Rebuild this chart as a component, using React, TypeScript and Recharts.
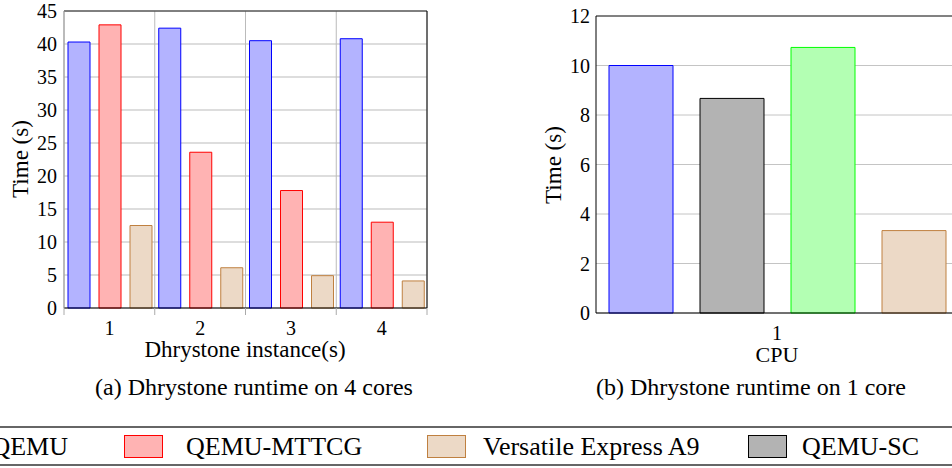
import React from 'react';
import { BarChart, Bar, XAxis, YAxis, CartesianGrid, ReferenceLine } from 'recharts';

// left panel: 4 cores
const instances = ['1', '2', '3', '4'];
const qemu4 = [40.3, 42.4, 40.5, 40.8];
const mttcg4 = [42.9, 23.6, 17.8, 13.0];
const vexpress4 = [12.5, 6.1, 4.9, 4.1];
const ticks4 = [0, 5, 10, 15, 20, 25, 30, 35, 40, 45];

// right panel: 1 core
const cpus = ['1'];
const qemu1 = [10.0];
const qemuSc1 = [8.67];
const green1 = [10.73];
const vexpress1 = [3.33];
const ticks1 = [0, 2, 4, 6, 8, 10, 12];

const SERIF = 'Liberation Serif, DejaVu Serif, serif';

const data4 = instances.map((name, i) => ({
  name,
  qemu: qemu4[i],
  mttcg: mttcg4[i],
  vexpress: vexpress4[i],
}));

const data1 = cpus.map((name, i) => ({
  name,
  qemu: qemu1[i],
  sc: qemuSc1[i],
  green: green1[i],
  vexpress: vexpress1[i],
}));

const colors = {
  qemu: { fill: '#b3b3ff', stroke: '#0000ff' },
  mttcg: { fill: '#ffb3b3', stroke: '#ff0000' },
  vexpress: { fill: '#ecd9c6', stroke: '#bf8040' },
  sc: { fill: '#b3b3b3', stroke: '#000000' },
  green: { fill: '#b3ffb3', stroke: '#00ff00' },
};

// x tick with the band boundary marks below the axis
const BandTick = ({ x, y, payload, index, visibleTicksCount, width, boundaries }: any) => {
  const half = (width || 363) / (visibleTicksCount || 1) / 2;
  return (
    <g>
      {boundaries && (
        <line x1={x - half} x2={x - half} y1={y} y2={y + 7} stroke="#aaa" />
      )}
      {boundaries && index === visibleTicksCount - 1 && (
        <line x1={x + half} x2={x + half} y1={y} y2={y + 7} stroke="#aaa" />
      )}
      <text x={x} y={y + 27} textAnchor="middle" style={{ fontFamily: SERIF }} fontSize={20} fill="#000">
        {payload.value}
      </text>
    </g>
  );
};

const bandLines = ({ offset }: any) => {
  const n = instances.length;
  return Array.from({ length: n + 1 }, (_, i) => offset.left + (i * offset.width) / n);
};

const yTick = { style: { fontFamily: SERIF }, fontSize: 20, fill: '#000' };

export default function App() {
  return (
    <div
      style={{
        position: 'fixed',
        left: 0,
        top: 0,
        width: 952,
        height: 468,
        overflow: 'hidden',
        background: '#fff',
        fontFamily: SERIF,
      }}
    >
      <div style={{ position: 'absolute', left: 0, top: 0 }}>
        <BarChart
          width={440}
          height={370}
          data={data4}
          margin={{ top: 11, right: 13, left: 0, bottom: 30 }}
          barCategoryGap={4}
          barGap={9}
        >
          <CartesianGrid stroke="#bbb" verticalCoordinatesGenerator={bandLines} />
          <XAxis
            dataKey="name"
            height={32}
            tickLine={false}
            tickSize={0}
            tickMargin={0}
            axisLine={{ stroke: '#000' }}
            tick={<BandTick boundaries />}
          />
          <YAxis
            width={64}
            domain={[0, 45]}
            ticks={ticks4}
            interval={0}
            tickLine={false}
            tickSize={0}
            tickMargin={7}
            axisLine={{ stroke: '#999' }}
            tick={yTick}
          />
          <YAxis
            yAxisId="frame"
            orientation="right"
            mirror
            domain={[0, 45]}
            ticks={ticks4}
            interval={0}
            tick={false}
            tickSize={7}
            tickLine={{ stroke: '#555' }}
            axisLine={{ stroke: '#000' }}
          />
          <ReferenceLine y={45} stroke="#222" />
          <Bar dataKey="qemu" name="QEMU" fill={colors.qemu.fill} stroke={colors.qemu.stroke} isAnimationActive={false} />
          <Bar dataKey="mttcg" name="QEMU-MTTCG" fill={colors.mttcg.fill} stroke={colors.mttcg.stroke} isAnimationActive={false} />
          <Bar dataKey="vexpress" name="Versatile Express A9" fill={colors.vexpress.fill} stroke={colors.vexpress.stroke} isAnimationActive={false} />
        </BarChart>
      </div>

      <div style={{ position: 'absolute', left: 530, top: 0 }}>
        <BarChart
          width={440}
          height={370}
          data={data1}
          margin={{ top: 16, right: 12, left: 0, bottom: 25 }}
          barCategoryGap={13}
          barGap={27}
        >
          <CartesianGrid stroke="#c4c4c4" vertical={false} />
          <XAxis
            dataKey="name"
            height={32}
            tickLine={false}
            tickSize={0}
            tickMargin={0}
            axisLine={{ stroke: '#000' }}
            tick={<BandTick />}
          />
          <YAxis
            width={66}
            domain={[0, 12]}
            ticks={ticks1}
            interval={0}
            tickLine={false}
            tickSize={0}
            tickMargin={6}
            axisLine={{ stroke: '#000' }}
            tick={yTick}
          />
          <ReferenceLine y={12} stroke="#222" />
          <Bar dataKey="qemu" name="QEMU" fill={colors.qemu.fill} stroke={colors.qemu.stroke} isAnimationActive={false} />
          <Bar dataKey="sc" name="QEMU-SC" fill={colors.sc.fill} stroke={colors.sc.stroke} isAnimationActive={false} />
          <Bar dataKey="green" fill={colors.green.fill} stroke={colors.green.stroke} isAnimationActive={false} />
          <Bar dataKey="vexpress" name="Versatile Express A9" fill={colors.vexpress.fill} stroke={colors.vexpress.stroke} isAnimationActive={false} />
        </BarChart>
      </div>

      {/* titles, captions and the shared legend */}
      <svg
        width={952}
        height={468}
        style={{ position: 'absolute', left: 0, top: 0, pointerEvents: 'none', fontFamily: SERIF }}
      >
        <text transform="translate(28,159) rotate(-90)" textAnchor="middle" fontSize={23}>
          Time (s)
        </text>
        <text transform="translate(561,165) rotate(-90)" textAnchor="middle" fontSize={23}>
          Time (s)
        </text>
        <text x={245} y={357} textAnchor="middle" fontSize={23}>
          Dhrystone instance(s)
        </text>
        <text x={777} y={362} textAnchor="middle" fontSize={22}>
          CPU
        </text>
        <text x={254} y={395} textAnchor="middle" fontSize={24}>
          (a) Dhrystone runtime on 4 cores
        </text>
        <text x={751} y={395} textAnchor="middle" fontSize={24}>
          (b) Dhrystone runtime on 1 core
        </text>

        <line x1={0} x2={952} y1={427} y2={427} stroke="#666" strokeWidth={2} />
        <line x1={0} x2={952} y1={465} y2={465} stroke="#666" strokeWidth={2} />
        <text x={68} y={455} textAnchor="end" fontSize={26}>QEMU</text>
        <rect x={124.5} y={435.5} width={38} height={22} fill={colors.mttcg.fill} stroke={colors.mttcg.stroke} />
        <text x={186} y={455} fontSize={26}>QEMU-MTTCG</text>
        <rect x={427.5} y={435.5} width={38} height={22} fill={colors.vexpress.fill} stroke={colors.vexpress.stroke} />
        <text x={483} y={455} fontSize={26}>Versatile Express A9</text>
        <rect x={748.5} y={435.5} width={38} height={22} fill={colors.sc.fill} stroke={colors.sc.stroke} />
        <text x={802} y={455} fontSize={26}>QEMU-SC</text>
      </svg>
    </div>
  );
}
